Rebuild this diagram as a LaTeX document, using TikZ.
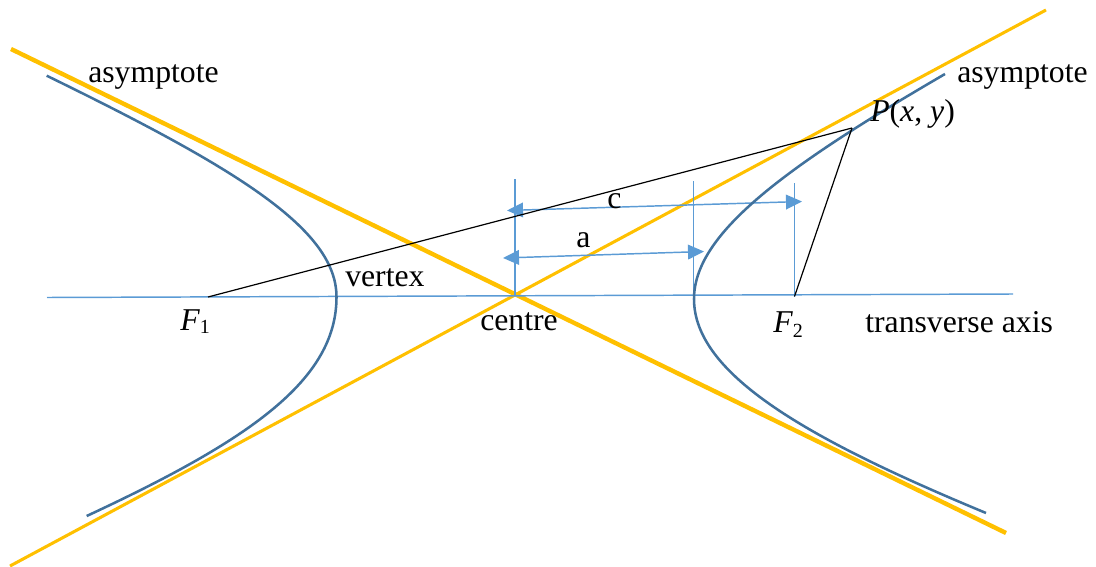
\documentclass[tikz,border=0pt]{standalone}
\usepackage{fontspec}
\setmainfont{Liberation Serif}
\usetikzlibrary{arrows.meta}
\definecolor{axisblue}{HTML}{5B9BD5}
\definecolor{curveblue}{HTML}{41719C}
\definecolor{asygold}{HTML}{FFC000}
\begin{document}
\begin{tikzpicture}[x=0.75pt,y=-0.75pt,
  lbl/.style={inner sep=0pt,anchor=base west,font=\fontsize{23.8}{28}\selectfont},
  thinblue/.style={draw=axisblue,line width=1.1pt},
  dimarrow/.style={draw=axisblue,line width=1.1pt,{Triangle[length=12pt,width=11pt]}-{Triangle[length=12pt,width=11pt]}},
  branch/.style={draw=curveblue,line width=1.9pt},
  asyA/.style={draw=asygold,line width=3.3pt},
  asyB/.style={draw=asygold,line width=2.3pt},
  blackline/.style={draw=black,line width=0.9pt}]
\useasboundingbox (0,0) rectangle (1096,567);
% named points
\coordinate (axL) at (47,297.5);
\coordinate (axR) at (1013,294);
\coordinate (O) at (515,295.5);
\coordinate (F1) at (208,297);
\coordinate (F2) at (794.5,296.5);
\coordinate (P) at (852,128);
\coordinate (A1s) at (11,49);
\coordinate (A1e) at (1006,533);
\coordinate (A2s) at (10,566);
\coordinate (A2e) at (1046,10);
\coordinate (Otop) at (515,179);
\coordinate (Vtop) at (693.5,181);
\coordinate (Vbot) at (693.5,298);
\coordinate (F2top) at (794.5,183);
\coordinate (cL) at (507,210.5);
\coordinate (cR) at (802,201.5);
\coordinate (aL) at (503,258);
\coordinate (aR) at (704,251.5);
\coordinate (LV) at (336.5,297);
\coordinate (LT) at (46.7,75.7);
\coordinate (LB) at (86.7,516);
\coordinate (RV) at (694,299);
\coordinate (RT) at (945,74);
\coordinate (RB) at (986,513);
% asymptotes
\draw[asyA] (A1s) -- (A1e);
\draw[asyB] (A2s) -- (A2e);
% transverse axis
\draw[thinblue] (axL) -- (axR);
% verticals
\draw[thinblue] (Otop) -- (O);
\draw[thinblue] (Vtop) -- (Vbot);
\draw[thinblue] (F2top) -- (F2);
% dimension arrows
\draw[dimarrow] (cL) -- (cR);
\draw[dimarrow] (aL) -- (aR);
% hyperbola branches
\draw[branch] (LT) .. controls (240,170) and (336.5,230) .. (LV)
  .. controls (336.5,380) and (250,440) .. (LB);
\draw[branch] (RT) .. controls (780,170) and (694,235) .. (RV)
  .. controls (694,375) and (810,440) .. (RB);
% focal lines
\draw[blackline] (F1) -- (P);
\draw[blackline] (F2) -- (P);
% labels
\node[lbl] (asyL) at (88,82.7) {asymptote};
\node[lbl] (asyR) at (957,82.7) {asymptote};
\node[lbl] (Plbl) at (870,121.7) {\textit{P}(\textit{x}, \textit{y})};
\node[lbl] (clbl) at (607,208) {c};
\node[lbl] (albl) at (576,247) {a};
\node[lbl] (vlbl) at (345,286.7) {vertex};
\node[lbl] (olbl) at (480,330) {centre};
\node[lbl] (F1lbl) at (180,330) {\textit{F}\raisebox{-0.25ex}{\fontsize{15}{18}\selectfont 1}};
\node[lbl] (F2lbl) at (773,332) {\textit{F}\raisebox{-0.35ex}{\fontsize{15}{18}\selectfont 2}};
\node[lbl] (tlbl) at (865,332) {transverse axis};
\end{tikzpicture}
\end{document}
